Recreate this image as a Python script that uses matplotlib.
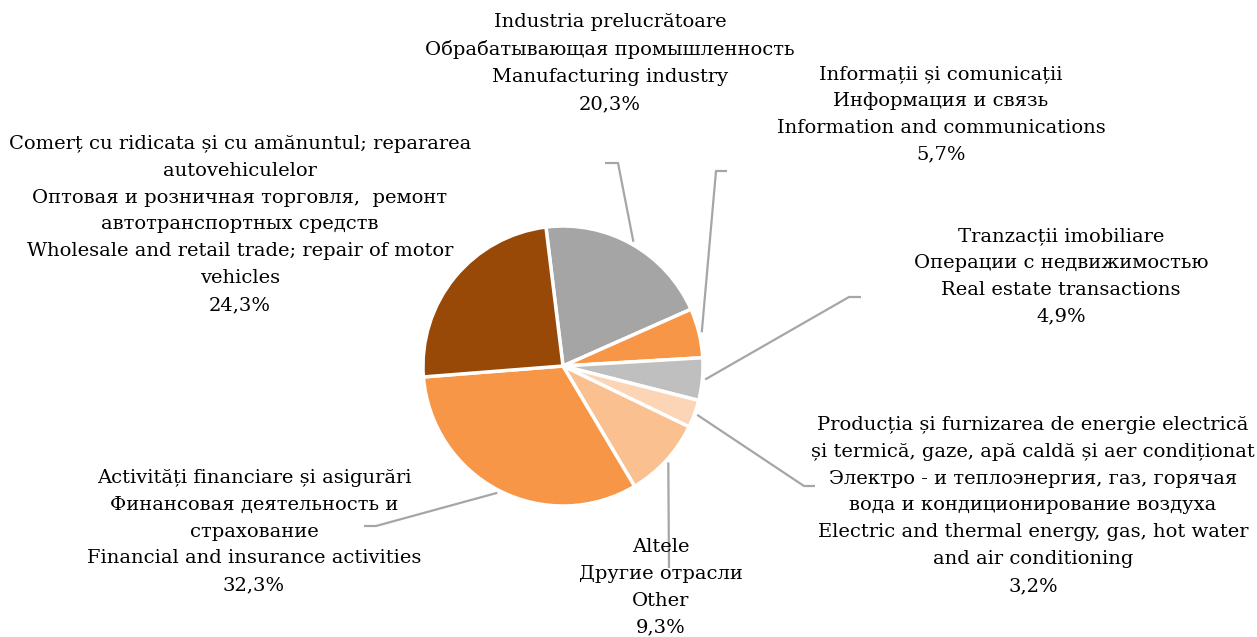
import matplotlib.pyplot as plt
import numpy as np

labels = [
    "Industria prelucrătoare\nОбрабатывающая промышленность\nManufacturing industry",
    "Informații și comunicații\nИнформация и связь\nInformation and communications",
    "Tranzacții imobiliare\nОперации с недвижимостью\nReal estate transactions",
    "Producția și furnizarea de energie electrică\nși termică, gaze, apă caldă și aer condiționat\n"
    "Электро - и теплоэнергия, газ, горячая\nвода и кондиционирование воздуха\n"
    "Electric and thermal energy, gas, hot water\nand air conditioning",
    "Altele\nДругие отрасли\nOther",
    "Activități financiare și asigurări\nФинансовая деятельность и\nстрахование\n"
    "Financial and insurance activities",
    "Comerț cu ridicata și cu amănuntul; repararea\nautovehiculelor\n"
    "Оптовая и розничная торговля,  ремонт\nавтотранспортных средств\n"
    "Wholesale and retail trade; repair of motor\nvehicles",
]
shares = [20.3, 5.7, 4.9, 3.2, 9.3, 32.3, 24.3]
colors = ["#A5A5A5", "#F79646", "#BFBFBF", "#FBD5B5", "#FAC090", "#F79646", "#984807"]

W, H = 1257, 637
# label centres (x, first-line y) and leader elbows in pixel layout
label_pos = [(610, 22), (941, 74), (1061, 236), (1033, 425), (661, 547), (254, 478), (240, 144)]
elbows = [((618, 163), (605, 163)), ((716, 171), (727, 171)), ((849, 297), (861, 297)),
          ((804, 486), (815, 486)), ((669, 568), (669, 568)), ((376, 526), (364, 526)), None]

cx, cy, r = 563, 366, 140
start = 97

fig = plt.figure(figsize=(W / 100, H / 100), dpi=100)
ax = fig.add_axes([0, 0, 1, 1])
ax.pie(shares, colors=colors, startangle=start, counterclock=False,
       center=(cx, H - cy), radius=r,
       wedgeprops=dict(edgecolor="white", linewidth=2.5))
ax.set_xlim(0, W)
ax.set_ylim(0, H)
ax.set_aspect("equal")
ax.axis("off")

font = "DejaVu Serif"
ang = start
for lab, val, (tx, ty), el in zip(labels, shares, label_pos, elbows):
    mid = np.deg2rad(ang - val * 3.6 / 2)
    ang -= val * 3.6
    txt = lab + "\n" + f"{val:.1f}%".replace(".", ",")
    ax.text(tx, H - ty + 9, txt, ha="center", va="top", fontsize=14,
            family=font, color="#000000", linespacing=1.63)
    if el is not None:
        sx = cx + r * 1.02 * np.cos(mid)
        sy = cy - r * 1.02 * np.sin(mid)
        xs = [sx, el[0][0], el[1][0]]
        ys = [H - sy, H - el[0][1], H - el[1][1]]
        ax.plot(xs, ys, color="#A6A6A6", lw=1.6, solid_capstyle="butt")

fig.savefig("out.png", dpi=100)
